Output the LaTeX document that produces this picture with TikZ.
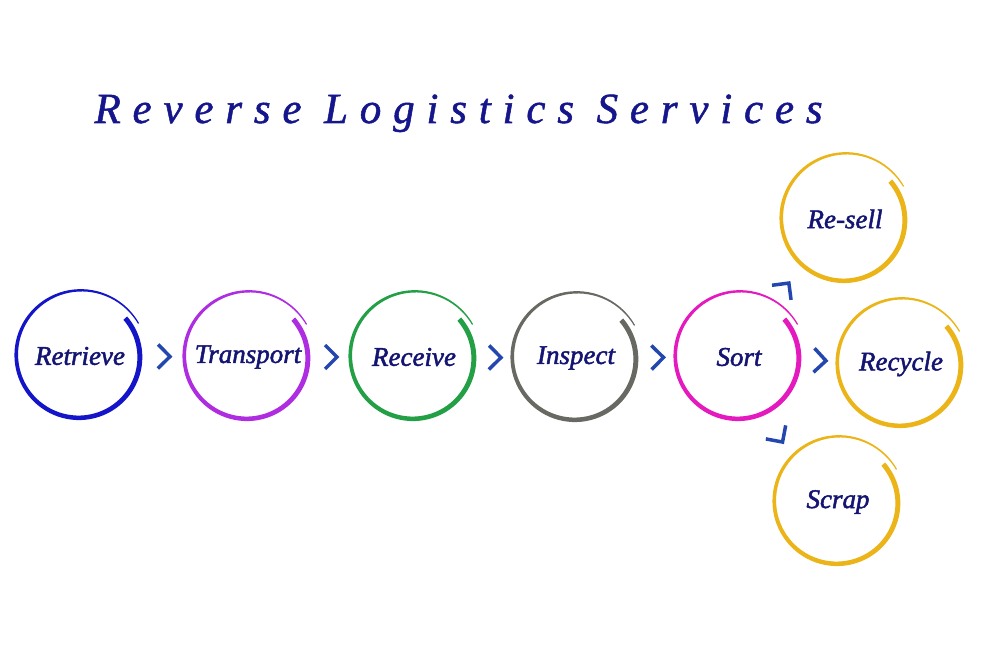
\documentclass[tikz,border=0pt]{standalone}
\usepackage{fontspec}
\setmainfont{Liberation Serif}
\newfontfamily\lblfont[FakeBold=1.8]{Liberation Serif}
\newfontfamily\headfont[LetterSpace=27.5,FakeBold=1.2]{Liberation Serif}
\definecolor{navytext}{RGB}{20,20,115}
\definecolor{headblue}{RGB}{22,22,140}
\definecolor{chevblue}{RGB}{35,70,175}
\definecolor{ringblue}{RGB}{20,20,200}
\definecolor{ringpurple}{RGB}{175,45,225}
\definecolor{ringgreen}{RGB}{35,160,70}
\definecolor{ringgray}{RGB}{105,105,100}
\definecolor{ringmagenta}{RGB}{228,25,190}
\definecolor{ringyellow}{RGB}{235,180,25}
\begin{document}
\begin{tikzpicture}[x=1pt,y=1pt,
  stage/.style={circle,minimum size=126pt,inner sep=0pt,text=navytext,
    font=\lblfont\itshape\fontsize{27}{27}\selectfont},
  chev/.pic={\draw[chevblue,line width=3.5pt,line join=miter] (-6,12) -- (6,0) -- (-6,-12);}]%flow
\useasboundingbox (0,0) rectangle (1000,667);
\node[anchor=base west,text=headblue,font=\headfont\itshape\fontsize{43}{43}\selectfont]
  (title) at (91,544) {Reverse Logistics Services};
\foreach \nm/\xy/\col/\txt in {retrieve/{80,311}/ringblue/Retrieve,
  transport/{248,310}/ringpurple/Transport,
  receive/{414,310}/ringgreen/Receive,
  inspect/{576,309}/ringgray/Inspect,
  sort/{739,310}/ringmagenta/Sort,
  resell/{845,448}/ringyellow/Re-sell,
  recycle/{901,303}/ringyellow/Recycle,
  scrap/{838,165}/ringyellow/Scrap}
{\node[stage] (\nm) at (\xy) {\txt};
 \fill[\col,shift={(\nm.center)}]
   plot[domain=0:1,samples=90,variable=\s] ({40-371*\s}:{59+8*\s+0.5*(1.2+3.8*(1-\s*\s))})
   -- plot[domain=1:0,samples=90,variable=\s] ({40-371*\s}:{59+8*\s-0.5*(1.2+3.8*(1-\s*\s))})
   -- cycle;}
%\node at (820,600) {};
\path (retrieve) -- pic[pos=.5,sloped]{chev} (transport);
\path (transport) -- pic[pos=.5,sloped]{chev} (receive);
\path (receive) -- pic[pos=.5,sloped]{chev} (inspect);
\path (inspect) -- pic[pos=.5,sloped]{chev} (sort);
\path (sort) -- pic[pos=.5,sloped]{chev} (recycle);
\path (sort) -- pic[pos=.5,sloped,xshift=-4pt,yshift=5.5pt]{chev} (resell);
\path (sort) -- pic[pos=.5,sloped,xshift=1pt,yshift=-12pt]{chev} (scrap);
\end{tikzpicture}
\end{document}
